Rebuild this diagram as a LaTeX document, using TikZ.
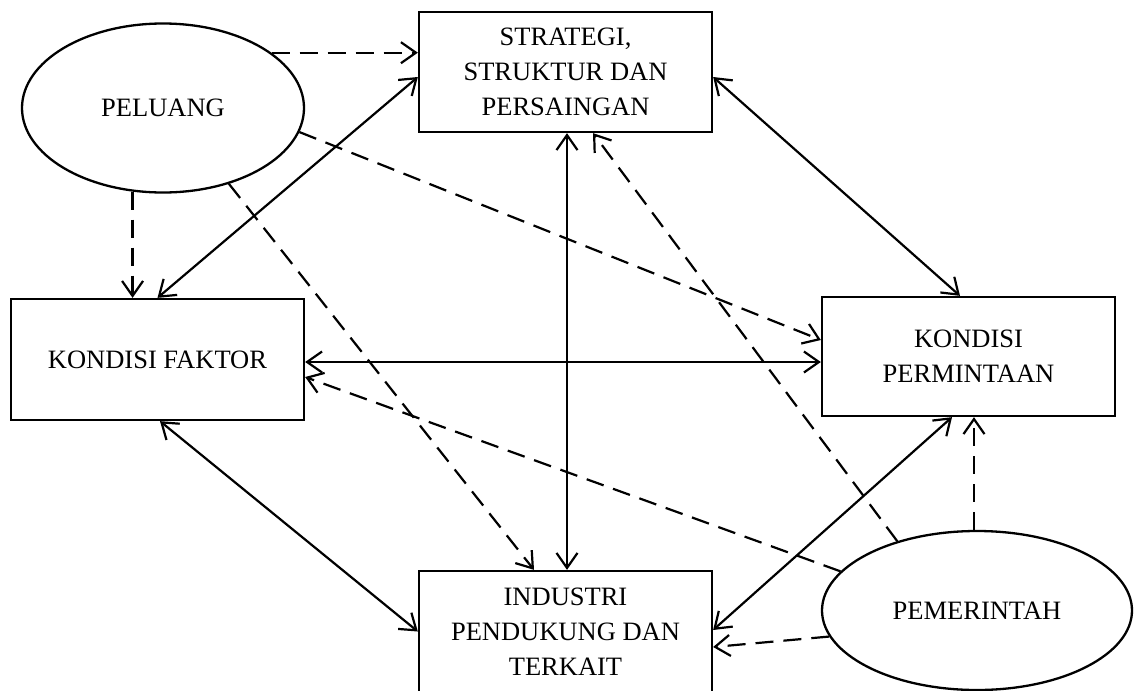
\documentclass[tikz,border=0pt]{standalone}
\usepackage{fontspec}
\setmainfont{Liberation Serif}
\usetikzlibrary{arrows.meta,shapes.geometric}

\begin{document}
\begin{tikzpicture}[x=1pt, y=-1pt,
   >={Straight Barb[length=15pt,width=21pt]},
   font=\fontsize{26.5pt}{35pt}\selectfont]
   \tikzset{Box/.style={draw, line width=2.3pt, minimum width=293pt, align=center, inner sep=0pt}}
   \tikzset{Blob/.style={draw, ellipse, line width=2.3pt, inner sep=0pt}}
   \tikzset{Link/.style={line width=2.2pt, <->}}
   \tikzset{Hint/.style={line width=2.2pt, ->, dash pattern=on 18pt off 10pt}}
   \useasboundingbox (0,0) rectangle (1136,691);

   \node[Blob, minimum width=282pt, minimum height=169pt] (peluang) at (163,108) {PELUANG};
   \node[Box, minimum height=120pt] (strategi) at (565.5,72) {STRATEGI,\\STRUKTUR DAN\\PERSAINGAN};
   \node[Box, minimum height=121pt] (faktor) at (157.5,359.5) {KONDISI FAKTOR};
   \node[Box, minimum height=119pt] (permintaan) at (968.5,356.5) {KONDISI\\PERMINTAAN};
   \node[Box, minimum height=121pt] (industri) at (565.5,631.5) {INDUSTRI\\PENDUKUNG DAN\\TERKAIT};
   \node[Blob, minimum width=310pt, minimum height=159pt] (pemerintah) at (977,610.5) {PEMERINTAH};

   % solid links
   \draw[Link] ([yshift=-5pt]strategi.west) -- (faktor.north);
   \draw[Link] ([yshift=-5pt]strategi.east) -- ([xshift=-8.5pt]permintaan.north);
   \draw[Link] ([xshift=1.5pt]strategi.south) -- ([xshift=1.5pt]industri.north);
   \draw[Link] ([yshift=-2.5pt]faktor.east) -- ([yshift=-2.5pt]faktor.east -| permintaan.west);
   \draw[Link] ([xshift=2.5pt]faktor.south) -- (industri.west);
   \draw[Link] ([xshift=-16.5pt]permintaan.south) -- ([yshift=1.5pt]industri.east);

   % dashed influences
   \draw[Hint] (peluang.27.6) -- (peluang.27.6 -| strategi.west);
   \draw[Hint] (peluang.-10.5) -- ([yshift=16.5pt]permintaan.west);
   \draw[Hint] (peluang.-110) -- (peluang.-110 |- faktor.north);
   \draw[Hint] (peluang.-49.5) -- ([xshift=-31.5pt]industri.north);
   \draw[Hint] (pemerintah.139.1) -- ([xshift=27.5pt]strategi.south);
   \draw[Hint] (pemerintah.164) -- ([yshift=-17.5pt]faktor.east);
   \draw[Hint] ([xshift=-3pt]pemerintah.north) -- ([xshift=5.5pt]permintaan.south);
   \draw[Hint] (pemerintah.190.6) -- ([yshift=-15.5pt]industri.east);
\end{tikzpicture}
\end{document}
